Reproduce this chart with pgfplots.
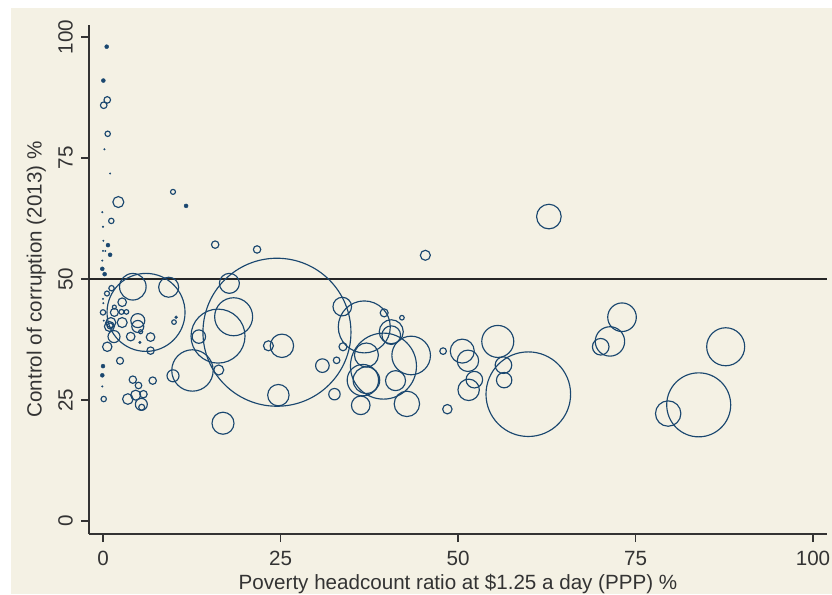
\documentclass[border=0pt]{standalone}
\usepackage{fontspec}
\setmainfont{Liberation Sans}
\usepackage{pgfplots}
\usepackage{pgfplotstable}
\pgfplotsset{compat=1.18}

\definecolor{bg}{HTML}{F4F1E4}
\definecolor{navy}{HTML}{1A476F}
\definecolor{txt}{HTML}{333333}

% x = poverty %, y = control of corruption %, r = bubble radius (pt)
\pgfplotstableread{
x y r
0.6 87.0 3.3
0.1 85.9 3.3
0.66 80.0 2.7
2.16 65.9 5.5
9.86 68.0 2.5
1.17 62.0 2.7
4.2 48.4 13.3
9.25 48.3 10
1.2 48.1 2.7
0.56 47.0 2.5
6.06 43.1 39
0.0 43.1 2.7
1.6 44.2 2.0
2.7 45.2 4.3
1.6 43.1 4.0
2.6 43.2 2.5
3.3 43.2 2.3
2.7 41.0 5.0
1.1 41.0 5.0
0.9 40.2 5.0
1.0 40.3 3.0
1.55 38.1 6.0
0.6 36.0 4.7
4.9 41.4 7.0
4.9 40.2 6.0
3.9 38.1 4.3
5.3 39.1 2.0
6.7 38.0 4.3
6.7 35.2 3.7
10.0 41.1 2.3
2.4 33.1 3.5
0.1 25.2 2.7
4.2 29.2 3.7
5.0 28.0 3.3
3.5 25.2 5.3
4.6 26.0 5.0
5.7 26.2 3.7
5.4 24.1 6.0
5.45 23.5 3.0
7.0 29.0 3.7
9.86 30.0 6.0
15.8 57.1 3.7
21.7 56.1 3.7
24.5 39.0 74
17.8 49.1 10
18.4 42.2 19
16.2 38.2 27
13.5 38.1 6.7
12.6 31.1 20.7
16.3 31.2 5
16.9 20.2 11
23.3 36.2 5
25.2 36.2 11.7
24.7 26.0 10.7
30.9 32.1 6.8
33.7 44.3 9.3
36.8 40.1 26
39.6 43.0 4
42.1 42.0 2.3
40.6 39.1 12
40.6 38.4 9.3
43.4 34.2 19.3
39.5 32.0 33
37.1 34.3 12
37.1 29.1 13.3
36.6 29.1 15.7
41.2 29.0 10
42.8 24.2 12.7
36.3 23.9 9.3
32.6 26.2 5.7
32.9 33.2 3.3
33.8 36.0 4
47.9 35.1 3.3
50.6 35.1 12
51.4 33.1 10.7
51.5 27.1 10.7
52.3 29.2 8.3
48.5 23.1 4.7
55.6 37.1 16
56.4 32.2 8.3
56.5 29.1 7.7
59.9 26.2 42.3
62.8 62.9 12.3
45.4 54.9 5
73.1 42.1 14.3
71.4 37.1 14.7
70.1 36.0 8.3
87.7 36.0 19
83.9 24.0 32
79.6 22.2 12.7
}\opendata

\pgfplotstableread{
x y r
0.52 98.0 2.0
0.05 91.0 2.0
0.2 76.8 0.8
1.0 71.8 0.8
11.7 65.1 2.0
-0.1 63.8 0.8
0.0 60.8 0.8
0.05 57.9 0.8
0.7 57.0 2.0
0.0 55.8 0.7
0.33 55.8 0.7
1.0 55.0 2.0
-0.1 53.8 0.8
-0.1 52.1 2.0
0.23 51.0 2.0
0.0 45.9 0.8
0.05 45.0 0.8
0.1 41.4 0.8
5.2 36.9 1.3
10.3 42.1 1.5
0.0 32.0 2.0
-0.1 30.1 2.0
-0.1 27.8 0.8
}\soliddata

\begin{document}
\begin{tikzpicture}
\useasboundingbox (0pt,0pt) rectangle (832pt,594pt);
\fill[bg] (11pt,0pt) rectangle (832pt,586pt);
\begin{axis}[
    at={(89pt,60pt)}, anchor=south west,
    scale only axis, width=738pt, height=509pt,
    xmin=-1.972, xmax=101.97, ymin=-2.686, ymax=102.48,
    axis lines=left,
    axis line style={-, txt, line width=1.2pt},
    xtick={0,25,50,75,100}, ytick={0,25,50,75,100},
    tick align=outside, major tick length=8pt,
    tick style={txt, line width=1.2pt},
    /pgf/number format/assume math mode=true,
    tick label style={font=\fontsize{20.6}{24}\selectfont, text=txt},
    label style={font=\fontsize{20.6}{24}\selectfont, text=txt},
    xticklabel style={anchor=north, inner sep=0pt, yshift=-9pt},
    yticklabel style={rotate=90, anchor=south, inner sep=0pt, yshift=8pt},
    xlabel={Poverty headcount ratio at \$1.25 a day (PPP) \%},
    ylabel={Control of corruption (2013) \%},
    xlabel style={at={(axis description cs:0.5,0)}, anchor=north, inner sep=0pt, yshift=-40pt},
    ylabel style={at={(axis description cs:0,0.5)}, anchor=south, rotate=0, inner sep=0pt, yshift=43pt},
    clip=false,
]
\addplot[black!85, line width=1.3pt] coordinates {(-1.972,50) (101.97,50)};
\addplot[scatter, only marks, mark=o, line width=1.15pt,
    scatter/use mapped color={draw=navy},
    visualization depends on={\thisrow{r} \as \rad},
    scatter/@pre marker code/.append style={/tikz/mark size=\rad}]
    table[x=x, y=y] {\opendata};
\addplot[scatter, only marks, mark=*,
    scatter/use mapped color={draw=navy, fill=navy},
    visualization depends on={\thisrow{r} \as \rad},
    scatter/@pre marker code/.append style={/tikz/mark size=\rad}]
    table[x=x, y=y] {\soliddata};
\end{axis}
\end{tikzpicture}
\end{document}
